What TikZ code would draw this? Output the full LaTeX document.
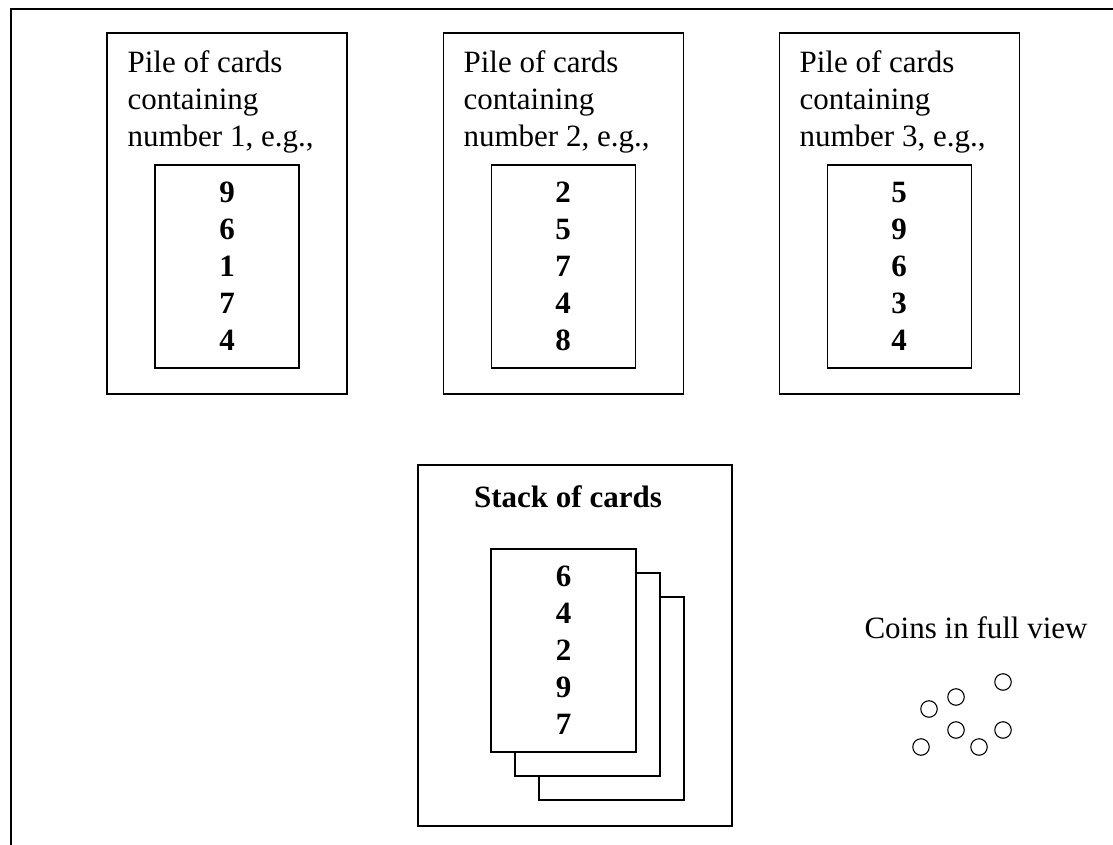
\documentclass[tikz,border=0pt]{standalone}
\usepackage{fontspec}
\setmainfont{Liberation Serif}
\usetikzlibrary{positioning}

\begin{document}
\begin{tikzpicture}[x=1pt,y=-1pt,
    line width=1.1pt,
    every node/.style={inner sep=0pt},
    pile/.style={draw,minimum width=240pt,minimum height=361pt},
    card/.style={draw,fill=white,minimum width=144pt,minimum height=203pt},
    pilelabel/.style={anchor=base west,align=left,font=\fontsize{31}{37}\selectfont},
    digits/.style={align=center,font=\fontsize{31}{37}\selectfont\bfseries},
    coin/.style={draw,circle,minimum size=16.5pt},
    node distance=95pt
    ]
    \useasboundingbox (0,0) rectangle (1113,845);

    % outer frame (only top and left edge are seen)
    \draw (11,845) -- (11,9) -- (1113,9);

    % the three piles
    \node (p1) [pile] at (227,213.5) {};
    \node (p2) [pile,right=of p1] {};
    \node (p3) [pile,right=of p2] {};

    % labels sit on the baseline of their last line
    \node (t1) [pilelabel] at (127,147) {Pile of cards\\containing\\number 1, e.g.,};
    \node (t2) [pilelabel] at (463,147) {Pile of cards\\containing\\number 2, e.g.,};
    \node (t3) [pilelabel] at (799,147) {Pile of cards\\containing\\number 3, e.g.,};

    \node (c1) [card,below=132pt of p1.north] {};
    \node (c2) [card,below=132pt of p2.north] {};
    \node (c3) [card,below=132pt of p3.north] {};
    \node (d1) [digits] at (c1) {9\\6\\1\\7\\4};
    \node (d2) [digits] at (c2) {2\\5\\7\\4\\8};
    \node (d3) [digits] at (c3) {5\\9\\6\\3\\4};

    % the stack
    \node (s) [pile,minimum width=314pt] at (575,645.5) {};
    \node (st) [anchor=base,font=\fontsize{31}{37}\selectfont\bfseries] at (568,507) {Stack of cards};
    \node (k3) [card,minimum width=145pt] at (611.5,698.5) {};
    \node (k2) [card,minimum width=145pt] at (587.5,674.5) {};
    \node (k1) [card,minimum width=145pt] at (563.5,650.5) {};
    \node (d4) [digits] at (k1) {6\\4\\2\\9\\7};

    % coins
    \node (cv) [anchor=base west,font=\fontsize{31}{37}\selectfont] at (864,638) {Coins in full view};
    \node (co1) [coin] at (1003,682) {};
    \node (co2) [coin] at (956,697) {};
    \node (co3) [coin] at (929,709) {};
    \node (co4) [coin] at (956,730) {};
    \node (co5) [coin] at (1003,730) {};
    \node (co6) [coin] at (921,747) {};
    \node (co7) [coin] at (979,747) {};
\end{tikzpicture}
\end{document}
